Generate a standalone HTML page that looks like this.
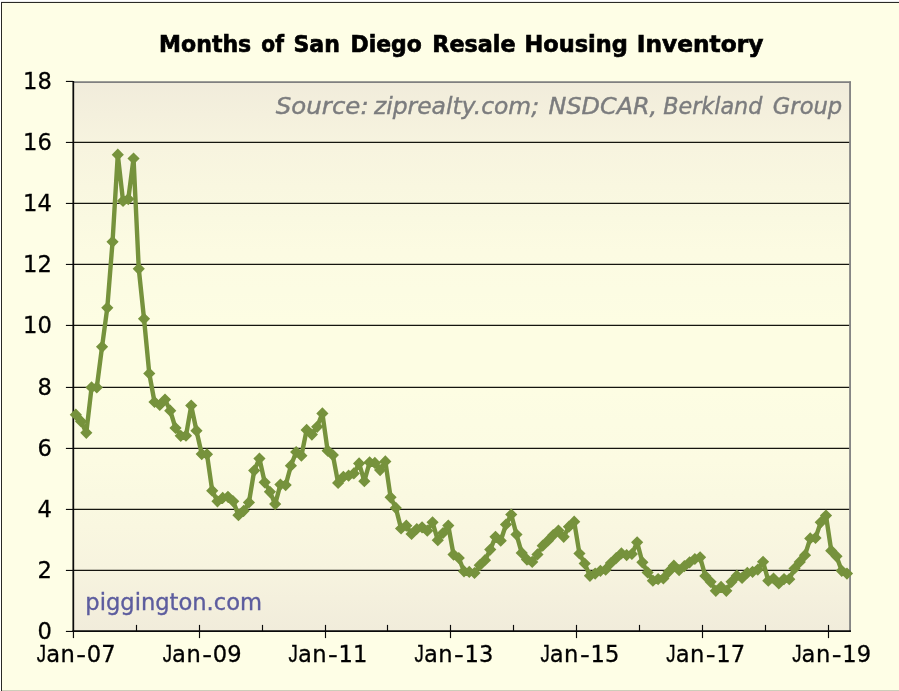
<!DOCTYPE html>
<html lang="en"><head><meta charset="utf-8">
<title>Months of San Diego Resale Housing Inventory</title>
<style>
html,body{margin:0;padding:0;background:#fefee6;overflow:hidden}
svg{display:block;will-change:transform}
text{font-family:"DejaVu Sans","Liberation Sans",sans-serif;font-size:22.6px;fill:#000;stroke:#000;stroke-width:0.3px}
.t{font-weight:bold;font-size:22.5px;stroke-width:0.65px}
.s{font-style:italic;fill:#7b7c7e;stroke:#7b7c7e;stroke-width:0.4px;font-size:22.6px}
.p{fill:#5c5c9e;stroke:#5c5c9e;stroke-width:0.35px;font-size:22.6px}
.yl{text-anchor:end}
.j{font-family:"Liberation Sans",sans-serif;font-size:23.3px}
.xl{text-anchor:middle}
</style></head><body>
<svg width="899" height="691" viewBox="0 0 899 691">
<defs><linearGradient id="pg" x1="0" y1="0" x2="0" y2="1"><stop offset="0" stop-color="#f1ecdb"/><stop offset="0.06" stop-color="#f4f0dd"/><stop offset="0.12" stop-color="#f7f4df"/><stop offset="0.19" stop-color="#f9f7e0"/><stop offset="0.25" stop-color="#faf9e1"/><stop offset="0.31" stop-color="#fcfbe2"/><stop offset="0.38" stop-color="#fcfce3"/><stop offset="0.44" stop-color="#fdfde3"/><stop offset="0.5" stop-color="#fdfde3"/><stop offset="0.56" stop-color="#fdfde3"/><stop offset="0.62" stop-color="#fcfce3"/><stop offset="0.69" stop-color="#fcfbe2"/><stop offset="0.75" stop-color="#faf9e1"/><stop offset="0.81" stop-color="#f9f7e0"/><stop offset="0.88" stop-color="#f7f4df"/><stop offset="0.94" stop-color="#f4f0dd"/><stop offset="1" stop-color="#f1ecdb"/></linearGradient></defs>
<rect x="0" y="0" width="899" height="691" fill="#fefee6"/>
<rect x="0" y="0" width="899" height="2" fill="#ffffff"/>
<rect x="1" y="1" width="898" height="1" fill="#ebebeb"/>
<rect x="0" y="0" width="1" height="691" fill="#ffffff"/>
<rect x="1" y="2" width="898" height="1" fill="#2a2a26"/>
<rect x="1" y="2" width="1" height="689" fill="#2a2a26"/>
<rect x="2" y="690" width="897" height="1" fill="#cdcdb9"/>
<rect x="73.2" y="81.5" width="777.3" height="549.7" fill="url(#pg)"/>
<g stroke="#15150f" stroke-width="1.15">
<line x1="73.2" y1="570.4" x2="849.6" y2="570.4"/>
<line x1="73.2" y1="509.4" x2="849.6" y2="509.4"/>
<line x1="73.2" y1="448.4" x2="849.6" y2="448.4"/>
<line x1="73.2" y1="387.4" x2="849.6" y2="387.4"/>
<line x1="73.2" y1="325.4" x2="849.6" y2="325.4"/>
<line x1="73.2" y1="264.4" x2="849.6" y2="264.4"/>
<line x1="73.2" y1="203.4" x2="849.6" y2="203.4"/>
<line x1="73.2" y1="142.4" x2="849.6" y2="142.4"/>
</g>
<g stroke="#808080" stroke-width="1.8" fill="none">
<line x1="73.2" y1="82.1" x2="850.95" y2="82.1"/>
<line x1="850.05" y1="81.5" x2="850.05" y2="631.9"/>
</g>
<g stroke="#0a0a0a" fill="none">
<line x1="73.3" y1="80.9" x2="73.3" y2="631.9" stroke-width="1.75"/>
<line x1="73.45" y1="631.2" x2="73.45" y2="638.1" stroke-width="1.2"/>
<line x1="72.5" y1="631.1" x2="850.9" y2="631.1" stroke-width="1.7"/>
<line x1="65.9" y1="631.45" x2="73.2" y2="631.45" stroke-width="1.15"/>
<line x1="65.9" y1="570.45" x2="73.2" y2="570.45" stroke-width="1.15"/>
<line x1="65.9" y1="509.45" x2="73.2" y2="509.45" stroke-width="1.15"/>
<line x1="65.9" y1="448.45" x2="73.2" y2="448.45" stroke-width="1.15"/>
<line x1="65.9" y1="387.45" x2="73.2" y2="387.45" stroke-width="1.15"/>
<line x1="65.9" y1="325.45" x2="73.2" y2="325.45" stroke-width="1.15"/>
<line x1="65.9" y1="264.45" x2="73.2" y2="264.45" stroke-width="1.15"/>
<line x1="65.9" y1="203.45" x2="73.2" y2="203.45" stroke-width="1.15"/>
<line x1="65.9" y1="142.45" x2="73.2" y2="142.45" stroke-width="1.15"/>
<line x1="65.9" y1="81.45" x2="73.2" y2="81.45" stroke-width="1.15"/>
<line x1="136.5" y1="624.9" x2="136.5" y2="631.2" stroke-width="1.15"/>
<line x1="199.5" y1="624.9" x2="199.5" y2="638.1" stroke-width="1.15"/>
<line x1="262.5" y1="624.9" x2="262.5" y2="631.2" stroke-width="1.15"/>
<line x1="325.5" y1="624.9" x2="325.5" y2="638.1" stroke-width="1.15"/>
<line x1="387.5" y1="624.9" x2="387.5" y2="631.2" stroke-width="1.15"/>
<line x1="450.5" y1="624.9" x2="450.5" y2="638.1" stroke-width="1.15"/>
<line x1="513.5" y1="624.9" x2="513.5" y2="631.2" stroke-width="1.15"/>
<line x1="576.5" y1="624.9" x2="576.5" y2="638.1" stroke-width="1.15"/>
<line x1="639.5" y1="624.9" x2="639.5" y2="631.2" stroke-width="1.15"/>
<line x1="702.5" y1="624.9" x2="702.5" y2="638.1" stroke-width="1.15"/>
<line x1="765.5" y1="624.9" x2="765.5" y2="631.2" stroke-width="1.15"/>
<line x1="828.5" y1="624.9" x2="828.5" y2="638.1" stroke-width="1.15"/>
</g>
<polyline fill="none" stroke="#76923c" stroke-width="4.4" stroke-linejoin="round" stroke-linecap="round" points="75.82,414.7 81.07,421.4 86.31,432.8 91.56,387.4 96.81,387.4 102.05,346.8 107.3,307.8 112.54,241.8 117.79,154.7 123.04,200.9 128.28,199.1 133.53,158.5 138.77,268.8 144.02,318.8 149.27,373.5 154.51,402 159.76,405 165,399.6 170.25,410.7 175.5,428 180.74,435.8 185.99,435.7 191.23,405.6 196.48,430.7 201.73,454.1 206.97,454.3 212.22,490.7 217.46,501.3 222.71,497.9 227.96,496.8 233.2,501.3 238.45,515.2 243.69,510.8 248.94,502.4 254.19,470.6 259.43,458.6 264.68,482.3 269.92,491.8 275.17,504.1 280.41,484.6 285.66,485.1 290.91,465.7 296.15,452 301.4,455.7 306.64,429.9 311.89,434.6 317.14,426.8 322.38,413.4 327.63,450.7 332.87,455.1 338.12,482.9 343.37,476.8 348.61,475.7 353.86,473.4 359.1,463.4 364.35,481.2 369.6,462.3 374.84,462.9 380.09,470.1 385.33,461.4 390.58,497.3 395.83,507.9 401.07,528.5 406.32,525.7 411.56,534 416.81,529 422.06,527.3 427.3,530.7 432.55,522.3 437.79,540.2 443.04,533 448.29,525.6 453.53,554.6 458.78,558 464.02,571.3 469.27,571.9 474.51,573 479.76,565.2 485.01,560.2 490.25,549.6 495.5,536.8 500.74,540.7 505.99,524.5 511.24,514.5 516.48,534.5 521.73,552.9 526.97,559.6 532.22,561.9 537.47,554.4 542.71,545.7 547.96,540.7 553.2,535.1 558.45,530.6 563.7,536.8 568.94,526.7 574.19,521.7 579.43,553.5 584.68,563.5 589.93,575.8 595.17,573.6 600.42,570.8 605.66,569.7 610.91,563 616.16,558.2 621.4,553.4 626.65,555.1 631.89,554 637.14,542.3 642.39,562.3 647.63,572.4 652.88,580.7 658.12,579.1 663.37,578.5 668.61,571.8 673.86,565.7 679.11,570.2 684.35,566.2 689.6,562.3 694.84,559 700.09,557.3 705.34,576 710.58,581.8 715.83,590.8 721.07,586.9 726.32,590.8 731.57,581.8 736.81,575.7 742.06,577.9 747.3,572.9 752.55,571.8 757.8,569.6 763.04,561.8 768.29,580.7 773.53,578.5 778.78,583.5 784.03,579.1 789.27,579.2 794.52,568.5 799.76,561.9 805.01,555.2 810.26,538.4 815.5,537.9 820.75,522.3 825.99,515.6 831.24,550.7 836.49,556.3 841.73,570.8 846.98,573.6"/>
<path fill="#76923c" d="M75.82 408.6l6.1 6.1l-6.1 6.1l-6.1 -6.1zM81.07 415.3l6.1 6.1l-6.1 6.1l-6.1 -6.1zM86.31 426.7l6.1 6.1l-6.1 6.1l-6.1 -6.1zM91.56 381.3l6.1 6.1l-6.1 6.1l-6.1 -6.1zM96.81 381.3l6.1 6.1l-6.1 6.1l-6.1 -6.1zM102.05 340.7l6.1 6.1l-6.1 6.1l-6.1 -6.1zM107.3 301.7l6.1 6.1l-6.1 6.1l-6.1 -6.1zM112.54 235.7l6.1 6.1l-6.1 6.1l-6.1 -6.1zM117.79 148.6l6.1 6.1l-6.1 6.1l-6.1 -6.1zM123.04 194.8l6.1 6.1l-6.1 6.1l-6.1 -6.1zM128.28 193l6.1 6.1l-6.1 6.1l-6.1 -6.1zM133.53 152.4l6.1 6.1l-6.1 6.1l-6.1 -6.1zM138.77 262.7l6.1 6.1l-6.1 6.1l-6.1 -6.1zM144.02 312.7l6.1 6.1l-6.1 6.1l-6.1 -6.1zM149.27 367.4l6.1 6.1l-6.1 6.1l-6.1 -6.1zM154.51 395.9l6.1 6.1l-6.1 6.1l-6.1 -6.1zM159.76 398.9l6.1 6.1l-6.1 6.1l-6.1 -6.1zM165 393.5l6.1 6.1l-6.1 6.1l-6.1 -6.1zM170.25 404.6l6.1 6.1l-6.1 6.1l-6.1 -6.1zM175.5 421.9l6.1 6.1l-6.1 6.1l-6.1 -6.1zM180.74 429.7l6.1 6.1l-6.1 6.1l-6.1 -6.1zM185.99 429.6l6.1 6.1l-6.1 6.1l-6.1 -6.1zM191.23 399.5l6.1 6.1l-6.1 6.1l-6.1 -6.1zM196.48 424.6l6.1 6.1l-6.1 6.1l-6.1 -6.1zM201.73 448l6.1 6.1l-6.1 6.1l-6.1 -6.1zM206.97 448.2l6.1 6.1l-6.1 6.1l-6.1 -6.1zM212.22 484.6l6.1 6.1l-6.1 6.1l-6.1 -6.1zM217.46 495.2l6.1 6.1l-6.1 6.1l-6.1 -6.1zM222.71 491.8l6.1 6.1l-6.1 6.1l-6.1 -6.1zM227.96 490.7l6.1 6.1l-6.1 6.1l-6.1 -6.1zM233.2 495.2l6.1 6.1l-6.1 6.1l-6.1 -6.1zM238.45 509.1l6.1 6.1l-6.1 6.1l-6.1 -6.1zM243.69 504.7l6.1 6.1l-6.1 6.1l-6.1 -6.1zM248.94 496.3l6.1 6.1l-6.1 6.1l-6.1 -6.1zM254.19 464.5l6.1 6.1l-6.1 6.1l-6.1 -6.1zM259.43 452.5l6.1 6.1l-6.1 6.1l-6.1 -6.1zM264.68 476.2l6.1 6.1l-6.1 6.1l-6.1 -6.1zM269.92 485.7l6.1 6.1l-6.1 6.1l-6.1 -6.1zM275.17 498l6.1 6.1l-6.1 6.1l-6.1 -6.1zM280.41 478.5l6.1 6.1l-6.1 6.1l-6.1 -6.1zM285.66 479l6.1 6.1l-6.1 6.1l-6.1 -6.1zM290.91 459.6l6.1 6.1l-6.1 6.1l-6.1 -6.1zM296.15 445.9l6.1 6.1l-6.1 6.1l-6.1 -6.1zM301.4 449.6l6.1 6.1l-6.1 6.1l-6.1 -6.1zM306.64 423.8l6.1 6.1l-6.1 6.1l-6.1 -6.1zM311.89 428.5l6.1 6.1l-6.1 6.1l-6.1 -6.1zM317.14 420.7l6.1 6.1l-6.1 6.1l-6.1 -6.1zM322.38 407.3l6.1 6.1l-6.1 6.1l-6.1 -6.1zM327.63 444.6l6.1 6.1l-6.1 6.1l-6.1 -6.1zM332.87 449l6.1 6.1l-6.1 6.1l-6.1 -6.1zM338.12 476.8l6.1 6.1l-6.1 6.1l-6.1 -6.1zM343.37 470.7l6.1 6.1l-6.1 6.1l-6.1 -6.1zM348.61 469.6l6.1 6.1l-6.1 6.1l-6.1 -6.1zM353.86 467.3l6.1 6.1l-6.1 6.1l-6.1 -6.1zM359.1 457.3l6.1 6.1l-6.1 6.1l-6.1 -6.1zM364.35 475.1l6.1 6.1l-6.1 6.1l-6.1 -6.1zM369.6 456.2l6.1 6.1l-6.1 6.1l-6.1 -6.1zM374.84 456.8l6.1 6.1l-6.1 6.1l-6.1 -6.1zM380.09 464l6.1 6.1l-6.1 6.1l-6.1 -6.1zM385.33 455.3l6.1 6.1l-6.1 6.1l-6.1 -6.1zM390.58 491.2l6.1 6.1l-6.1 6.1l-6.1 -6.1zM395.83 501.8l6.1 6.1l-6.1 6.1l-6.1 -6.1zM401.07 522.4l6.1 6.1l-6.1 6.1l-6.1 -6.1zM406.32 519.6l6.1 6.1l-6.1 6.1l-6.1 -6.1zM411.56 527.9l6.1 6.1l-6.1 6.1l-6.1 -6.1zM416.81 522.9l6.1 6.1l-6.1 6.1l-6.1 -6.1zM422.06 521.2l6.1 6.1l-6.1 6.1l-6.1 -6.1zM427.3 524.6l6.1 6.1l-6.1 6.1l-6.1 -6.1zM432.55 516.2l6.1 6.1l-6.1 6.1l-6.1 -6.1zM437.79 534.1l6.1 6.1l-6.1 6.1l-6.1 -6.1zM443.04 526.9l6.1 6.1l-6.1 6.1l-6.1 -6.1zM448.29 519.5l6.1 6.1l-6.1 6.1l-6.1 -6.1zM453.53 548.5l6.1 6.1l-6.1 6.1l-6.1 -6.1zM458.78 551.9l6.1 6.1l-6.1 6.1l-6.1 -6.1zM464.02 565.2l6.1 6.1l-6.1 6.1l-6.1 -6.1zM469.27 565.8l6.1 6.1l-6.1 6.1l-6.1 -6.1zM474.51 566.9l6.1 6.1l-6.1 6.1l-6.1 -6.1zM479.76 559.1l6.1 6.1l-6.1 6.1l-6.1 -6.1zM485.01 554.1l6.1 6.1l-6.1 6.1l-6.1 -6.1zM490.25 543.5l6.1 6.1l-6.1 6.1l-6.1 -6.1zM495.5 530.7l6.1 6.1l-6.1 6.1l-6.1 -6.1zM500.74 534.6l6.1 6.1l-6.1 6.1l-6.1 -6.1zM505.99 518.4l6.1 6.1l-6.1 6.1l-6.1 -6.1zM511.24 508.4l6.1 6.1l-6.1 6.1l-6.1 -6.1zM516.48 528.4l6.1 6.1l-6.1 6.1l-6.1 -6.1zM521.73 546.8l6.1 6.1l-6.1 6.1l-6.1 -6.1zM526.97 553.5l6.1 6.1l-6.1 6.1l-6.1 -6.1zM532.22 555.8l6.1 6.1l-6.1 6.1l-6.1 -6.1zM537.47 548.3l6.1 6.1l-6.1 6.1l-6.1 -6.1zM542.71 539.6l6.1 6.1l-6.1 6.1l-6.1 -6.1zM547.96 534.6l6.1 6.1l-6.1 6.1l-6.1 -6.1zM553.2 529l6.1 6.1l-6.1 6.1l-6.1 -6.1zM558.45 524.5l6.1 6.1l-6.1 6.1l-6.1 -6.1zM563.7 530.7l6.1 6.1l-6.1 6.1l-6.1 -6.1zM568.94 520.6l6.1 6.1l-6.1 6.1l-6.1 -6.1zM574.19 515.6l6.1 6.1l-6.1 6.1l-6.1 -6.1zM579.43 547.4l6.1 6.1l-6.1 6.1l-6.1 -6.1zM584.68 557.4l6.1 6.1l-6.1 6.1l-6.1 -6.1zM589.93 569.7l6.1 6.1l-6.1 6.1l-6.1 -6.1zM595.17 567.5l6.1 6.1l-6.1 6.1l-6.1 -6.1zM600.42 564.7l6.1 6.1l-6.1 6.1l-6.1 -6.1zM605.66 563.6l6.1 6.1l-6.1 6.1l-6.1 -6.1zM610.91 556.9l6.1 6.1l-6.1 6.1l-6.1 -6.1zM616.16 552.1l6.1 6.1l-6.1 6.1l-6.1 -6.1zM621.4 547.3l6.1 6.1l-6.1 6.1l-6.1 -6.1zM626.65 549l6.1 6.1l-6.1 6.1l-6.1 -6.1zM631.89 547.9l6.1 6.1l-6.1 6.1l-6.1 -6.1zM637.14 536.2l6.1 6.1l-6.1 6.1l-6.1 -6.1zM642.39 556.2l6.1 6.1l-6.1 6.1l-6.1 -6.1zM647.63 566.3l6.1 6.1l-6.1 6.1l-6.1 -6.1zM652.88 574.6l6.1 6.1l-6.1 6.1l-6.1 -6.1zM658.12 573l6.1 6.1l-6.1 6.1l-6.1 -6.1zM663.37 572.4l6.1 6.1l-6.1 6.1l-6.1 -6.1zM668.61 565.7l6.1 6.1l-6.1 6.1l-6.1 -6.1zM673.86 559.6l6.1 6.1l-6.1 6.1l-6.1 -6.1zM679.11 564.1l6.1 6.1l-6.1 6.1l-6.1 -6.1zM684.35 560.1l6.1 6.1l-6.1 6.1l-6.1 -6.1zM689.6 556.2l6.1 6.1l-6.1 6.1l-6.1 -6.1zM694.84 552.9l6.1 6.1l-6.1 6.1l-6.1 -6.1zM700.09 551.2l6.1 6.1l-6.1 6.1l-6.1 -6.1zM705.34 569.9l6.1 6.1l-6.1 6.1l-6.1 -6.1zM710.58 575.7l6.1 6.1l-6.1 6.1l-6.1 -6.1zM715.83 584.7l6.1 6.1l-6.1 6.1l-6.1 -6.1zM721.07 580.8l6.1 6.1l-6.1 6.1l-6.1 -6.1zM726.32 584.7l6.1 6.1l-6.1 6.1l-6.1 -6.1zM731.57 575.7l6.1 6.1l-6.1 6.1l-6.1 -6.1zM736.81 569.6l6.1 6.1l-6.1 6.1l-6.1 -6.1zM742.06 571.8l6.1 6.1l-6.1 6.1l-6.1 -6.1zM747.3 566.8l6.1 6.1l-6.1 6.1l-6.1 -6.1zM752.55 565.7l6.1 6.1l-6.1 6.1l-6.1 -6.1zM757.8 563.5l6.1 6.1l-6.1 6.1l-6.1 -6.1zM763.04 555.7l6.1 6.1l-6.1 6.1l-6.1 -6.1zM768.29 574.6l6.1 6.1l-6.1 6.1l-6.1 -6.1zM773.53 572.4l6.1 6.1l-6.1 6.1l-6.1 -6.1zM778.78 577.4l6.1 6.1l-6.1 6.1l-6.1 -6.1zM784.03 573l6.1 6.1l-6.1 6.1l-6.1 -6.1zM789.27 573.1l6.1 6.1l-6.1 6.1l-6.1 -6.1zM794.52 562.4l6.1 6.1l-6.1 6.1l-6.1 -6.1zM799.76 555.8l6.1 6.1l-6.1 6.1l-6.1 -6.1zM805.01 549.1l6.1 6.1l-6.1 6.1l-6.1 -6.1zM810.26 532.3l6.1 6.1l-6.1 6.1l-6.1 -6.1zM815.5 531.8l6.1 6.1l-6.1 6.1l-6.1 -6.1zM820.75 516.2l6.1 6.1l-6.1 6.1l-6.1 -6.1zM825.99 509.5l6.1 6.1l-6.1 6.1l-6.1 -6.1zM831.24 544.6l6.1 6.1l-6.1 6.1l-6.1 -6.1zM836.49 550.2l6.1 6.1l-6.1 6.1l-6.1 -6.1zM841.73 564.7l6.1 6.1l-6.1 6.1l-6.1 -6.1zM846.98 567.5l6.1 6.1l-6.1 6.1l-6.1 -6.1z"/>
<text class="t" y="52"><tspan x="159.12" textLength="92.13" lengthAdjust="spacingAndGlyphs">Months</tspan> <tspan x="261.3" textLength="22.63" lengthAdjust="spacingAndGlyphs">of</tspan> <tspan x="293.52" textLength="46.38" lengthAdjust="spacingAndGlyphs">San</tspan> <tspan x="350.53" textLength="71.29" lengthAdjust="spacingAndGlyphs">Diego</tspan> <tspan x="432.31" textLength="83.33" lengthAdjust="spacingAndGlyphs">Resale</tspan> <tspan x="524.5" textLength="103.24" lengthAdjust="spacingAndGlyphs">Housing</tspan> <tspan x="636.87" textLength="126.46" lengthAdjust="spacingAndGlyphs">Inventory</tspan></text>
<text class="s" y="113.6"><tspan x="275.8" textLength="92.86" lengthAdjust="spacingAndGlyphs">Source:</tspan> <tspan x="373.9" textLength="165.18" lengthAdjust="spacingAndGlyphs">ziprealty.com;</tspan> <tspan x="548.5" textLength="108.73" lengthAdjust="spacingAndGlyphs">NSDCAR,</tspan> <tspan x="663.2" textLength="99.17" lengthAdjust="spacingAndGlyphs">Berkland</tspan> <tspan x="772.8" textLength="69.4" lengthAdjust="spacingAndGlyphs">Group</tspan></text>
<text class="p" y="609.6"><tspan x="85.3" textLength="176.79" lengthAdjust="spacingAndGlyphs">piggington.com</tspan></text>
<text class="yl" x="51.8" y="638.6">0</text>
<text class="yl" x="51.8" y="577.6">2</text>
<text class="yl" x="51.8" y="516.6">4</text>
<text class="yl" x="51.8" y="455.6">6</text>
<text class="yl" x="51.8" y="394.6">8</text>
<text class="yl" x="51.8" y="332.6">10</text>
<text class="yl" x="51.8" y="271.6">12</text>
<text class="yl" x="51.8" y="210.6">14</text>
<text class="yl" x="51.8" y="149.6">16</text>
<text class="yl" x="51.8" y="88.6">18</text>
<text y="661.9"><tspan class="j" x="36.8" textLength="9.3" lengthAdjust="spacingAndGlyphs">J</tspan><tspan x="46.2 60.5">an</tspan><tspan x="76.3" textLength="9.8" lengthAdjust="spacingAndGlyphs">-</tspan><tspan x="86.8 101.3">07</tspan></text>
<text y="661.9"><tspan class="j" x="162.7" textLength="9.3" lengthAdjust="spacingAndGlyphs">J</tspan><tspan x="172.1 186.4">an</tspan><tspan x="202.2" textLength="9.8" lengthAdjust="spacingAndGlyphs">-</tspan><tspan x="212.7 227.2">09</tspan></text>
<text y="661.9"><tspan class="j" x="288.61" textLength="9.3" lengthAdjust="spacingAndGlyphs">J</tspan><tspan x="298.01 312.31">an</tspan><tspan x="328.11" textLength="9.8" lengthAdjust="spacingAndGlyphs">-</tspan><tspan x="338.61 353.11">11</tspan></text>
<text y="661.9"><tspan class="j" x="414.51" textLength="9.3" lengthAdjust="spacingAndGlyphs">J</tspan><tspan x="423.91 438.21">an</tspan><tspan x="454.01" textLength="9.8" lengthAdjust="spacingAndGlyphs">-</tspan><tspan x="464.51 479.01">13</tspan></text>
<text y="661.9"><tspan class="j" x="540.41" textLength="9.3" lengthAdjust="spacingAndGlyphs">J</tspan><tspan x="549.81 564.11">an</tspan><tspan x="579.91" textLength="9.8" lengthAdjust="spacingAndGlyphs">-</tspan><tspan x="590.41 604.91">15</tspan></text>
<text y="661.9"><tspan class="j" x="666.31" textLength="9.3" lengthAdjust="spacingAndGlyphs">J</tspan><tspan x="675.71 690.01">an</tspan><tspan x="705.81" textLength="9.8" lengthAdjust="spacingAndGlyphs">-</tspan><tspan x="716.31 730.81">17</tspan></text>
<text y="661.9"><tspan class="j" x="792.22" textLength="9.3" lengthAdjust="spacingAndGlyphs">J</tspan><tspan x="801.62 815.92">an</tspan><tspan x="831.72" textLength="9.8" lengthAdjust="spacingAndGlyphs">-</tspan><tspan x="842.22 856.72">19</tspan></text>
</svg>
</body></html>
